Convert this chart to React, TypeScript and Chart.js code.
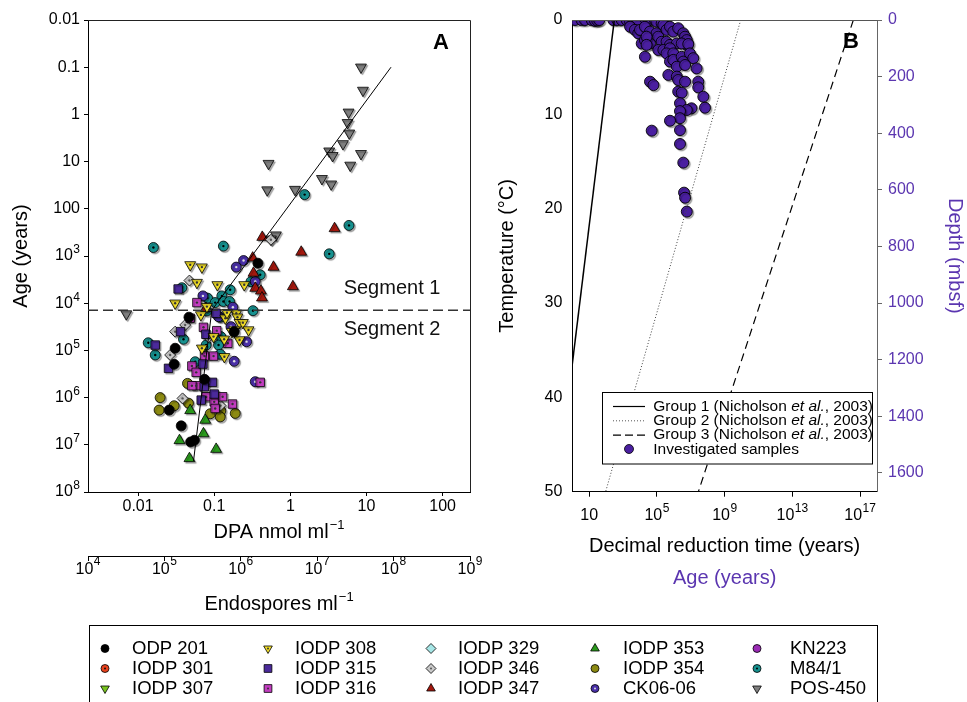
import React, { useEffect, useRef } from "react";
import { Chart, registerables } from "chart.js";

Chart.register(...registerables);

const FONT = "'Liberation Sans', Arial, Helvetica, sans-serif";
const PURPLE = "#5b36b0";

type Pt = [number, number];

// ---------------- Panel A data: [DPA nmol/ml, age (years)] ----------------
const odp201: Pt[] = [[0.375, 1420], [0.0466, 19800], [0.183, 40100], [0.0307, 90000], [0.0298, 1.97e5], [0.0746, 4.1e5], [0.0256, 1.84e6], [0.0369, 3.97e6], [0.049, 8.7e6], [0.055, 8.0e6]];
const iodp301: Pt[] = [];
const iodp307: Pt[] = [];
const iodp308: Pt[] = [[0.0484, 1540], [0.0689, 1720], [0.0593, 3650], [0.11, 4080], [0.248, 4080], [0.0307, 10000], [0.0668, 17700], [0.195, 16300], [0.202, 19800], [0.215, 25800], [0.238, 25800], [0.282, 36900], [0.183, 36900], [0.14, 20800], [0.135, 58000], [0.147, 15850], [0.0689, 90000], [0.136, 1.36e5], [0.098, 51000], [0.0802, 11800], [0.215, 60000], [0.171, 40000]];
const iodp315: Pt[] = [[0.0336, 5000], [0.106, 16300], [0.0361, 40000], [0.0168, 77000], [0.0251, 2.4e5], [0.0711, 1.95e5], [0.095, 4.75e5], [0.1, 8.4e5], [0.0675, 1.13e6], [0.0739, 5.9e5], [0.0778, 45500]];
const iodp316: Pt[] = [[0.0593, 9700], [0.0484, 20800], [0.0723, 32400], [0.108, 38200], [0.151, 70700], [0.0509, 2.14e5], [0.058, 2.92e5], [0.058, 5.6e5], [0.0509, 5.6e5], [0.0746, 1.32e5], [0.098, 1.32e5], [0.0785, 9.6e5], [0.1, 1.23e6], [0.129, 9.6e5], [0.174, 1.37e6], [0.103, 1.7e6], [0.402, 4.75e5]];
const iodp329: Pt[] = [];
const iodp346: Pt[] = [[0.0473, 3310], [0.0416, 28900], [0.0307, 40100], [0.0264, 1.25e5], [0.0841, 52700], [0.0802, 4.8e5], [0.0384, 1.04e6], [0.121, 1.47e6], [0.556, 453]];
const iodp347: Pt[] = [[0.428, 400], [3.81, 261], [1.39, 826], [0.32, 1100], [0.601, 1720], [0.328, 2300], [0.346, 4800], [0.411, 5500], [0.424, 7700], [1.08, 4440], [0.0778, 12800]];
const iodp353: Pt[] = [[0.0484, 1.87e6], [0.0762, 3.0e6], [0.0723, 5.8e6], [0.035, 8.1e6], [0.106, 1.24e7], [0.0473, 1.95e7], [0.0778, 1.28e5]];
const iodp354: Pt[] = [[0.0446, 5.0e5], [0.0195, 1.0e6], [0.0298, 1.49e6], [0.0189, 1.84e6], [0.0459, 1.31e6], [0.0886, 2.2e6], [0.122, 1.91e6], [0.12, 2.56e6], [0.189, 2.16e6]];
const ck0606: Pt[] = [[0.243, 1250], [0.195, 1720], [0.346, 3480], [0.0711, 7000], [0.176, 12160], [0.114, 19300], [0.166, 31400], [0.266, 65300], [0.183, 1.7e5], [0.346, 4.6e5]];
const kn223: Pt[] = [];
const m841: Pt[] = [[1.54, 50], [5.89, 225], [3.24, 900], [0.0159, 660], [0.132, 617], [0.0376, 4700], [0.402, 2500], [0.304, 3500], [0.162, 5200], [0.126, 7000], [0.0817, 7800], [0.103, 9700], [0.132, 9200], [0.159, 9200], [0.08, 14600], [0.323, 14400], [0.0395, 58000], [0.12, 19800], [0.122, 51000], [0.0785, 77000], [0.114, 77000], [0.0136, 69000], [0.0168, 1.25e5], [0.0563, 1.74e5], [0.12, 1.21e5]];
const pos450: Pt[] = [[8.47, 0.1], [8.99, 0.31], [5.82, 0.9], [5.65, 1.5], [5.94, 2.5], [4.91, 4.2], [3.24, 6.0], [3.59, 7.5], [8.47, 6.8], [6.12, 12], [0.517, 11], [2.6, 23], [3.44, 30], [0.497, 40], [1.15, 39], [0.647, 360], [0.556, 440], [0.007, 16900]];

const seriesNames = ["ODP 201", "IODP 301", "IODP 307", "IODP 308", "IODP 315", "IODP 316", "IODP 329", "IODP 346", "IODP 347", "IODP 353", "IODP 354", "CK06-06", "KN223", "M84/1", "POS-450"];
const seriesData = [odp201, iodp301, iodp307, iodp308, iodp315, iodp316, iodp329, iodp346, iodp347, iodp353, iodp354, ck0606, kn223, m841, pos450];

const fitLine: Pt[] = [[21, 0.1], [0.093, 1.41e4], [0.0535, 2.2e7]];
const segmentBoundary = 1.41e4;
const dpaRange: Pt = [0.0022, 229];
const ageRangeA: Pt = [0.01, 1e8];
const endoRange: Pt = [1e4, 1e9];
const dpaTicks = [0.01, 0.1, 1, 10, 100];
const ageTicksA = [0.01, 0.1, 1, 10, 100, 1e3, 1e4, 1e5, 1e6, 1e7, 1e8];
const endoTicks = [1e4, 1e5, 1e6, 1e7, 1e8, 1e9];

// ---------------- Panel B data ----------------
// [decimal reduction time (years), temperature (°C)]
const group1: Pt[] = [[302, 0], [0.12, 50]];
const group2: Pt[] = [[8.9e9, 0], [93, 50]];
const group3: Pt[] = [[4e16, 0], [2.8e7, 50]];
// [age (years), depth (mbsf)]
const samples: Pt[] = [
  [1.45, 0], [3.5, 0], [5.6, 0], [14, 0], [22, 3], [30, 2], [39, 0], [263, 0], [457, 0], [832, 0], [1620, 0], [2820, 0], [5010, 0], [1.0e4, 0], [1.95e4, 0], [3.9e4, 0], [7.6e4, 0], [1.5e5, 0], [2.3e5, 0],
  [2600, 6], [4000, 12], [6300, 18], [9.5e4, 6], [1.9e5, 12], [2600, 24], [5000, 35], [7900, 47],
  [1.0e4, 35], [1.95e4, 24], [3.9e4, 41], [9.5e4, 47], [2.4e5, 18], [3.7e5, 35], [5.9e5, 24], [9.3e5, 41], [1.8e6, 29], [3.6e6, 47], [4.6e6, 59], [5.8e6, 71], [5.8e6, 88],
  [1.26e4, 83], [1.95e4, 71], [3.9e4, 83], [2.45e4, 59], [1.2e5, 59], [1.9e5, 77], [3.7e5, 77], [5.9e5, 88], [1.5e6, 83], [2.9e6, 83], [7.1e6, 85],
  [1.2e5, 106], [2.4e5, 106], [5.9e5, 100], [3.7e5, 118], [9.3e5, 118], [2.45e4, 88], [1.95e4, 130], [5.9e5, 147], [9.3e5, 141], [2.9e6, 130], [3.6e6, 147], [8.9e6, 118], [1.4e7, 135],
  [1.5e6, 165], [4.6e6, 159], [2.2e7, 171], [4.7e5, 194], [1.5e6, 200], [1.8e6, 212], [4.6e6, 218], [3.9e4, 218], [6.2e4, 230], [2.75e7, 218], [2.75e7, 238], [1.8e6, 253], [2.9e6, 257],
  [5.5e7, 271], [2.3e6, 294], [1.1e7, 312], [6.9e7, 310], [5.8e6, 318], [2.3e6, 322], [2.3e6, 347], [5.9e5, 356], [2.3e6, 389], [4.9e4, 391], [2.3e6, 438], [3.6e6, 504], [4.0e6, 610], [4.6e6, 628], [5.8e6, 677],
];
const timeRange: Pt = [1, 1e18];
const tempRange: Pt = [0, 50];
const depthRange: Pt = [0, 1666.67];
const timeTicks = [10, 1e5, 1e9, 1e13, 1e17];
const tempTicks = [0, 10, 20, 30, 40, 50];
const depthTicks = [0, 200, 400, 600, 800, 1000, 1200, 1400, 1600];
const groupLabels = ["Group 1 (Nicholson ", "Group 2 (Nicholson ", "Group 3 (Nicholson "];

// ---------------- styles ----------------
const seriesStyle: { color: string; shape: string; dot?: string }[] = [
  { color: "#000000", shape: "circle" },
  { color: "#e8431e", shape: "circle", dot: "#111" },
  { color: "#78c41e", shape: "triangleDown" },
  { color: "#f2df2a", shape: "triangleDown", dot: "#333" },
  { color: "#4b2a9b", shape: "rect" },
  { color: "#c23dc0", shape: "rect", dot: "#333" },
  { color: "#a6e6e6", shape: "rectRot" },
  { color: "#c8c8c8", shape: "rectRot", dot: "#555" },
  { color: "#a3180e", shape: "triangle" },
  { color: "#2a9a1c", shape: "triangle" },
  { color: "#8c8a12", shape: "circle" },
  { color: "#4a30a8", shape: "circle", dot: "#ddd" },
  { color: "#9a2bb5", shape: "circle" },
  { color: "#17918f", shape: "circle", dot: "#000" },
  { color: "#7f7f7f", shape: "triangleDown" },
];

const toXY = (a: Pt[]) => a.map(([x, y]) => ({ x, y }));

function markerPath(ctx: CanvasRenderingContext2D, shape: string, x: number, y: number, r: number) {
  ctx.beginPath();
  if (shape === "circle") ctx.arc(x, y, r, 0, Math.PI * 2);
  else if (shape === "triangle" || shape === "triangleDown") {
    const s = shape === "triangle" ? 1 : -1;
    const sx = r * Math.sin((2 * Math.PI) / 3);
    ctx.moveTo(x, y - s * r);
    ctx.lineTo(x + sx, y + s * r * 0.5);
    ctx.lineTo(x - sx, y + s * r * 0.5);
    ctx.closePath();
  } else if (shape === "rect") {
    const h = r * Math.SQRT1_2;
    ctx.rect(x - h, y - h, 2 * h, 2 * h);
  } else {
    ctx.moveTo(x, y - r);
    ctx.lineTo(x + r, y);
    ctx.lineTo(x, y + r);
    ctx.lineTo(x - r, y);
    ctx.closePath();
  }
}

function drawNum(ctx: CanvasRenderingContext2D, x: number, y: number, v: number, align: string, plain: string | null, color: string, size: number, expUp: number) {
  ctx.fillStyle = color;
  ctx.textBaseline = "middle";
  ctx.textAlign = "left";
  const bf = `${size}px ${FONT}`;
  const ef = `${Math.round(size * 0.72)}px ${FONT}`;
  const base = plain !== null ? plain : "10";
  const exp = plain !== null ? "" : String(Math.round(Math.log10(v)));
  ctx.font = bf;
  const wb = ctx.measureText(base).width;
  ctx.font = ef;
  const we = exp ? ctx.measureText(exp).width + 0.5 : 0;
  const tot = wb + we;
  const x0 = align === "right" ? x - tot : align === "center" ? x - tot / 2 : x;
  ctx.font = bf;
  ctx.fillText(base, x0, y);
  if (exp) {
    ctx.font = ef;
    ctx.fillText(exp, x0 + wb + 0.5, y - expUp);
  }
}

function drawSupTitle(ctx: CanvasRenderingContext2D, cx: number, cy: number, main: string, sup: string) {
  ctx.fillStyle = "#000";
  ctx.textBaseline = "middle";
  ctx.textAlign = "left";
  const mf = `20px ${FONT}`;
  const sf = `13px ${FONT}`;
  ctx.font = mf;
  const wm = ctx.measureText(main).width;
  ctx.font = sf;
  const ws = ctx.measureText(sup).width;
  const x0 = cx - (wm + ws + 1) / 2;
  ctx.font = mf;
  ctx.fillText(main, x0, cy);
  ctx.font = sf;
  ctx.fillText(sup, x0 + wm + 1, cy - 7);
}

const markerPlugin = {
  id: "markerFx",
  beforeDatasetDraw(chart: any, args: any) {
    const ds: any = chart.data.datasets[args.index];
    if (ds.shadow) {
      const c = chart.ctx;
      c.save();
      c.shadowColor = "rgba(0,0,0,0.33)";
      c.shadowOffsetX = 1.5;
      c.shadowOffsetY = 1.5;
      c.shadowBlur = 1;
    }
  },
  afterDatasetDraw(chart: any, args: any) {
    const ds: any = chart.data.datasets[args.index];
    const c = chart.ctx;
    if (ds.shadow) c.restore();
    if (ds.dotColor) {
      c.save();
      c.fillStyle = ds.dotColor;
      for (const el of args.meta.data) {
        c.beginPath();
        c.arc(el.x, el.y, 1.2, 0, Math.PI * 2);
        c.fill();
      }
      c.restore();
    }
  },
};

const legendCols = { marker: [105, 268, 431, 595, 757], text: [132, 295, 458, 623, 790] };
const legendRows = [648.5, 668.5, 688.5];

const panelAPlugin = {
  id: "panelA",
  afterDraw(chart: any) {
    const { ctx, chartArea: ca, scales } = chart;
    ctx.save();
    // frame top/right
    ctx.strokeStyle = "#222";
    ctx.lineWidth = 1;
    ctx.beginPath();
    ctx.moveTo(Math.round(ca.left), Math.round(ca.top) + 0.5);
    ctx.lineTo(Math.round(ca.right) + 0.5, Math.round(ca.top) + 0.5);
    ctx.lineTo(Math.round(ca.right) + 0.5, Math.round(ca.bottom));
    ctx.stroke();
    // tick labels
    scales.y.ticks.forEach((t: any) =>
      drawNum(ctx, ca.left - 8, scales.y.getPixelForValue(t.value), t.value, "right", t.value <= 100 ? String(t.value) : null, "#000", 16, 6)
    );
    scales.x.ticks.forEach((t: any) =>
      drawNum(ctx, scales.x.getPixelForValue(t.value), ca.bottom + 15, t.value, "center", String(t.value), "#000", 16, 0)
    );
    scales.x2.ticks.forEach((t: any) =>
      drawNum(ctx, scales.x2.getPixelForValue(t.value), scales.x2.top + 14, t.value, "center", null, "#000", 16, 8)
    );
    drawSupTitle(ctx, (ca.left + ca.right) / 2, 532, "DPA nmol ml", "\u22121");
    drawSupTitle(ctx, (ca.left + ca.right) / 2, 604, "Endospores ml", "\u22121");
    // panel letter & segment labels
    ctx.fillStyle = "#000";
    ctx.textAlign = "center";
    ctx.textBaseline = "middle";
    ctx.font = `bold 22px ${FONT}`;
    ctx.fillText("A", 441, 43);
    ctx.font = `20px ${FONT}`;
    ctx.fillStyle = "#111";
    ctx.fillText("Segment 1", 392, 288);
    ctx.fillText("Segment 2", 392, 329);
    // bottom legend
    ctx.strokeStyle = "#000";
    ctx.lineWidth = 1;
    ctx.strokeRect(89.5, 625.5, 788, 90);
    seriesNames.forEach((name, i) => {
      const col = Math.floor(i / 3);
      const row = i % 3;
      const st = seriesStyle[i];
      const mx = legendCols.marker[col];
      const my = legendRows[row];
      const r = st.shape === "circle" ? 4 : st.shape === "rect" ? 5.5 : 5;
      markerPath(ctx, st.shape, mx, my, r);
      ctx.fillStyle = st.color;
      ctx.fill();
      ctx.strokeStyle = "#000";
      ctx.lineWidth = 0.8;
      ctx.stroke();
      if (st.dot) {
        ctx.beginPath();
        ctx.arc(mx, my, 1, 0, Math.PI * 2);
        ctx.fillStyle = st.dot;
        ctx.fill();
      }
      ctx.fillStyle = "#000";
      ctx.textAlign = "left";
      ctx.textBaseline = "middle";
      ctx.font = `18.5px ${FONT}`;
      ctx.fillText(name, legendCols.text[col], my + 0.5);
    });
    ctx.restore();
  },
};

const panelBPlugin = {
  id: "panelB",
  afterDraw(chart: any) {
    const { ctx, chartArea: ca, scales } = chart;
    ctx.save();
    ctx.strokeStyle = "#555";
    ctx.lineWidth = 1;
    ctx.beginPath();
    ctx.moveTo(Math.round(ca.left), Math.round(ca.top) + 0.5);
    ctx.lineTo(Math.round(ca.right) + 0.5, Math.round(ca.top) + 0.5);
    ctx.stroke();
    scales.x.ticks.forEach((t: any) =>
      drawNum(ctx, scales.x.getPixelForValue(t.value), ca.bottom + 24, t.value, "center", t.value === 10 ? "10" : null, "#000", 16, 7)
    );
    scales.y.ticks.forEach((t: any) =>
      drawNum(ctx, ca.left - 10, scales.y.getPixelForValue(t.value), t.value, "right", String(t.value), "#000", 16, 0)
    );
    scales.yD.ticks.forEach((t: any) =>
      drawNum(ctx, ca.right + 11, scales.yD.getPixelForValue(t.value), t.value, "left", String(t.value), PURPLE, 16, 0)
    );
    ctx.fillStyle = "#000";
    ctx.textAlign = "center";
    ctx.textBaseline = "middle";
    ctx.font = `bold 22px ${FONT}`;
    ctx.fillText("B", 851, 42);
    // inner legend
    const bx = 602.5, by = 392.5, bw = 270, bh = 71.5;
    ctx.fillStyle = "#fff";
    ctx.fillRect(bx, by, bw, bh);
    ctx.strokeStyle = "#000";
    ctx.lineWidth = 1;
    ctx.strokeRect(bx, by, bw, bh);
    const rows = [406, 420.3, 434.6, 449];
    const dashes = [[], [1, 2], [8, 4]];
    const cols = ["#000", "#555", "#000"];
    groupLabels.forEach((lab, i) => {
      ctx.save();
      ctx.strokeStyle = cols[i];
      ctx.lineWidth = i === 1 ? 1 : 1.2;
      ctx.setLineDash(dashes[i]);
      ctx.beginPath();
      ctx.moveTo(613, rows[i] + 0.5);
      ctx.lineTo(645, rows[i] + 0.5);
      ctx.stroke();
      ctx.restore();
      ctx.fillStyle = "#000";
      ctx.textAlign = "left";
      ctx.textBaseline = "middle";
      let x = 653.3;
      ctx.font = `15.5px ${FONT}`;
      ctx.fillText(lab, x, rows[i] + 0.5);
      x += ctx.measureText(lab).width;
      ctx.font = `italic 15.5px ${FONT}`;
      ctx.fillText("et al.", x, rows[i] + 0.5);
      x += ctx.measureText("et al.").width;
      ctx.font = `15.5px ${FONT}`;
      ctx.fillText(", 2003)", x, rows[i] + 0.5);
    });
    markerPath(ctx, "circle", 629, rows[3], 4.5);
    ctx.fillStyle = "#4a1fa0";
    ctx.fill();
    ctx.strokeStyle = "#000";
    ctx.lineWidth = 0.8;
    ctx.stroke();
    ctx.fillStyle = "#000";
    ctx.font = `15.5px ${FONT}`;
    ctx.fillText("Investigated samples", 653.3, rows[3] + 0.5);
    ctx.restore();
  },
};

const shapeToChart = (shape: string) =>
  shape === "triangleDown" ? { pointStyle: "triangle", pointRotation: 180 } : { pointStyle: shape, pointRotation: 0 };

const axisFont = { family: FONT, size: 20 };

export default function App() {
  const refA = useRef<HTMLCanvasElement>(null);
  const refB = useRef<HTMLCanvasElement>(null);

  useEffect(() => {
    const lineDs = [
      {
        data: toXY(fitLine), showLine: true, pointRadius: 0, borderColor: "#000", borderWidth: 1, order: 0,
      },
      {
        data: [{ x: dpaRange[0], y: segmentBoundary }, { x: dpaRange[1], y: segmentBoundary }],
        showLine: true, pointRadius: 0, borderColor: "#333", borderWidth: 1.3, borderDash: [10, 5], order: 0,
      },
    ];
    const pointDs = seriesData.map((d, i) => {
      const st = seriesStyle[i];
      const r = st.shape === "circle" ? 5 : st.shape === "rect" ? 6 : st.shape === "rectRot" ? 5.5 : 6.3;
      return {
        label: seriesNames[i],
        data: toXY(d),
        ...shapeToChart(st.shape),
        pointRadius: r,
        pointBackgroundColor: st.color,
        pointBorderColor: "#000",
        pointBorderWidth: 0.8,
        shadow: true,
        dotColor: st.dot,
        order: 1,
      };
    });

    const tickGrid = (len: number, color = "#000") => ({
      display: true, drawOnChartArea: false, drawTicks: true, tickLength: len, color, lineWidth: 1,
    });

    const chartA = new Chart(refA.current as HTMLCanvasElement, {
      type: "scatter",
      data: { datasets: [...lineDs, ...pointDs] as any },
      options: {
        responsive: false,
        animation: false,
        devicePixelRatio: 1,
        events: [],
        layout: { padding: { left: 0, top: 20, right: 497, bottom: 82 } },
        plugins: { legend: { display: false }, tooltip: { enabled: false } },
        scales: {
          x: {
            type: "logarithmic", position: "bottom", weight: 0, min: dpaRange[0], max: dpaRange[1],
            afterBuildTicks: (s: any) => { s.ticks = dpaTicks.map((v) => ({ value: v })); },
            afterFit: (s: any) => { s.height = 64; },
            ticks: { display: false },
            grid: tickGrid(4),
            border: { display: true, color: "#000", width: 1 },
          },
          x2: {
            type: "logarithmic", position: "bottom", weight: 1, min: endoRange[0], max: endoRange[1],
            afterBuildTicks: (s: any) => { s.ticks = endoTicks.map((v) => ({ value: v })); },
            afterFit: (s: any) => { s.height = 64; },
            ticks: { display: false },
            grid: tickGrid(5),
            border: { display: true, color: "#000", width: 1 },
          },
          y: {
            type: "logarithmic", position: "left", reverse: true, min: ageRangeA[0], max: ageRangeA[1],
            afterBuildTicks: (s: any) => { s.ticks = ageTicksA.map((v) => ({ value: v })); },
            afterFit: (s: any) => { s.width = 88; },
            ticks: { display: false },
            grid: tickGrid(4),
            border: { display: true, color: "#000", width: 1 },
            title: { display: true, text: "Age (years)", color: "#000", font: axisFont, padding: { top: 9, bottom: 0 } },
          },
        } as any,
      },
      plugins: [markerPlugin, panelAPlugin],
    } as any);

    const chartB = new Chart(refB.current as HTMLCanvasElement, {
      type: "scatter",
      data: {
        datasets: [
          { data: toXY(group1), yAxisID: "y", showLine: true, pointRadius: 0, borderColor: "#000", borderWidth: 1.5, order: 0 },
          { data: toXY(group2), yAxisID: "y", showLine: true, pointRadius: 0, borderColor: "#444", borderWidth: 1, borderDash: [1, 2], order: 0 },
          { data: toXY(group3), yAxisID: "y", showLine: true, pointRadius: 0, borderColor: "#000", borderWidth: 1.2, borderDash: [8, 5], order: 0 },
          {
            label: "Investigated samples", data: toXY(samples), yAxisID: "yD",
            pointStyle: "circle", pointRadius: 5.5, pointBackgroundColor: "#4a1fa0", pointBorderColor: "#000", pointBorderWidth: 0.9,
            shadow: true, order: 1,
          },
        ] as any,
      },
      options: {
        responsive: false,
        animation: false,
        devicePixelRatio: 1,
        events: [],
        layout: { padding: { left: 490, top: 20, right: 0, bottom: 110.3 } },
        plugins: { legend: { display: false }, tooltip: { enabled: false } },
        scales: {
          x: {
            type: "logarithmic", position: "bottom", weight: 0, min: timeRange[0], max: timeRange[1],
            afterBuildTicks: (s: any) => { s.ticks = timeTicks.map((v) => ({ value: v })); },
            afterFit: (s: any) => { s.height = 68; },
            ticks: { display: false },
            grid: tickGrid(5),
            border: { display: true, color: "#000", width: 1 },
            title: { display: true, text: "Decimal reduction time (years)", color: "#000", font: axisFont, padding: { top: 0, bottom: 1.2 } },
          },
          x2: {
            type: "logarithmic", position: "bottom", weight: 1, min: timeRange[0], max: timeRange[1],
            afterFit: (s: any) => { s.height = 32; },
            ticks: { display: false },
            grid: { display: false },
            border: { display: false },
            title: { display: true, text: "Age (years)", color: PURPLE, font: axisFont, padding: { top: 0, bottom: 1.4 } },
          },
          y: {
            type: "linear", position: "left", reverse: true, min: tempRange[0], max: tempRange[1],
            afterBuildTicks: (s: any) => { s.ticks = tempTicks.map((v) => ({ value: v })); },
            afterFit: (s: any) => { s.width = 82.3; },
            ticks: { display: false },
            grid: { display: false },
            border: { display: true, color: "#000", width: 1 },
            title: { display: true, text: "Temperature (°C)", color: "#000", font: axisFont, padding: { top: 5, bottom: 0 } },
          },
          yD: {
            type: "linear", position: "right", reverse: true, min: depthRange[0], max: depthRange[1],
            afterBuildTicks: (s: any) => { s.ticks = depthTicks.map((v) => ({ value: v })); },
            afterFit: (s: any) => { s.width = 90; },
            ticks: { display: false },
            grid: tickGrid(5, "#666"),
            border: { display: true, color: "#666", width: 1 },
            title: { display: true, text: "Depth (mbsf)", color: PURPLE, font: axisFont, padding: { top: 0, bottom: 0 } },
          },
        } as any,
      },
      plugins: [markerPlugin, panelBPlugin],
    } as any);

    return () => {
      chartA.destroy();
      chartB.destroy();
    };
  }, []);

  return (
    <div style={{ position: "fixed", left: 0, top: 0, width: 967, height: 702, background: "#fff" }}>
      <canvas ref={refA} width={967} height={702} style={{ position: "absolute", left: 0, top: 0, width: 967, height: 702 }} />
      <canvas ref={refB} width={967} height={702} style={{ position: "absolute", left: 0, top: 0, width: 967, height: 702 }} />
    </div>
  );
}
